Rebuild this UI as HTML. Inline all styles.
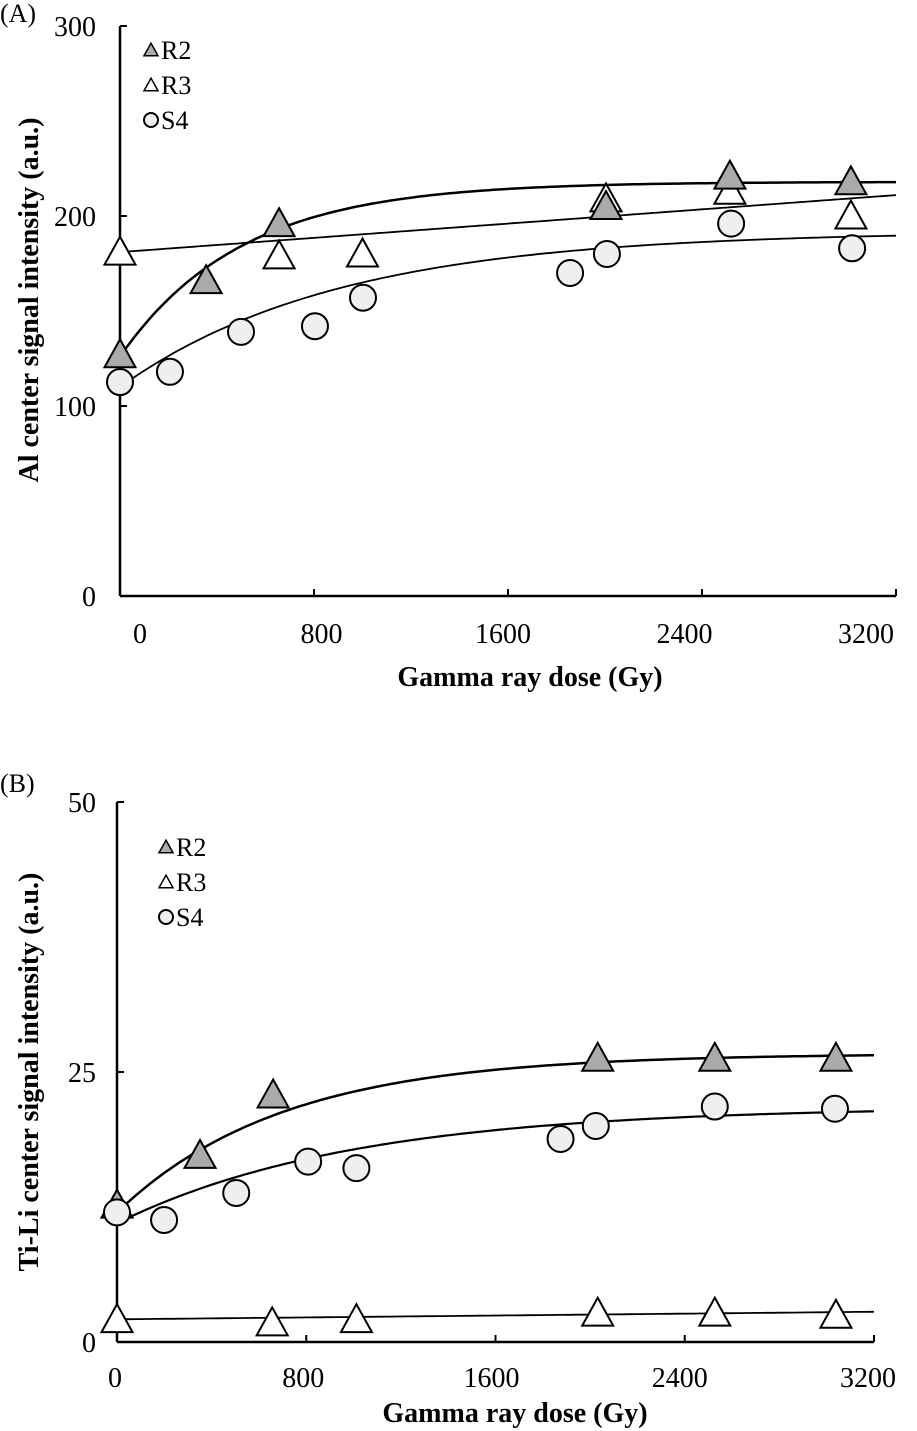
<!DOCTYPE html>
<html><head><meta charset="utf-8"><style>
html,body{margin:0;padding:0;background:#fff;}
svg{display:block;font-family:"Liberation Serif",serif;}
</style></head><body>
<svg id="chart" width="917" height="1431" viewBox="0 0 917 1431" xmlns="http://www.w3.org/2000/svg"></svg>
<script>
// Panel A data (Al center)
const doseA_R2 = [0, 355, 656, 2004, 2515, 3014];
const valA_R2 = [126, 165, 195, 204, 220, 217];
const doseA_R3 = [0, 656, 1000, 2004, 2515, 3014];
const valA_R3 = [180, 178, 179, 208, 212, 199];
const doseA_S4 = [0, 206, 499, 804, 1002, 1856, 2008, 2520, 3019];
const valA_S4 = [112.6, 118, 139, 142, 157, 170, 180, 196, 183];
const yTicksA = [0, 100, 200, 300];
// Panel B data (Ti-Li center)
const doseB_R2 = [0, 351, 660, 2032, 2527, 3039];
const valB_R2 = [12.5, 17.1, 22.7, 26.1, 26.1, 26.1];
const doseB_R3 = [0, 656, 1012, 2032, 2527, 3039];
const valB_R3 = [1.9, 1.6, 1.9, 2.5, 2.5, 2.3];
const doseB_S4 = [0, 199, 504, 808, 1012, 1875, 2024, 2527, 3035];
const valB_S4 = [12, 11.3, 13.8, 16.7, 16.1, 18.8, 20, 21.8, 21.6];
const yTicksB = [0, 25, 50];
const xTicks = [0, 800, 1600, 2400, 3200];

const NS = "http://www.w3.org/2000/svg";
const svg = document.getElementById('chart');
function el(tag, attrs, parent, text) {
  const e = document.createElementNS(NS, tag);
  for (const k in attrs) e.setAttribute(k, attrs[k]);
  if (text !== undefined) e.textContent = text;
  (parent || svg).appendChild(e);
  return e;
}
function tri(g, cx, cy, s, fill) {
  const h = s * 0.9;
  return el('polygon', {points: `${cx},${cy - h*0.62} ${cx - s/2},${cy + h*0.38} ${cx + s/2},${cy + h*0.38}`, fill: fill, stroke: '#000', 'stroke-width': 2}, g);
}
function panel(cfg) {
  const g = el('g', {});
  
  
  const X = d => cfg.x0 + (d / 3200) * (cfg.x1 - cfg.x0);
  const LX = d => cfg.lx0 + (d / 3200) * (cfg.lx1 - cfg.lx0);
  const Y = v => cfg.y0 - (v / cfg.ymax) * (cfg.y0 - cfg.y1);
  const ya = el('line', {x1: cfg.x0, y1: cfg.y1, x2: cfg.x0, y2: cfg.y0, stroke: '#000', 'stroke-width': 2.5}, g);
  
  
  const xa = el('line', {x1: cfg.x0, y1: cfg.y0, x2: cfg.x1, y2: cfg.y0, stroke: '#000', 'stroke-width': 2.5}, g);
  
  
  cfg.yTicks.forEach(t => {
    el('line', {x1: cfg.x0, y1: Y(t), x2: cfg.x0 + 7, y2: Y(t), stroke: '#000', 'stroke-width': 2}, g);
    const tl = el('text', {x: 96, y: Y(t) + 10, 'text-anchor': 'end', 'font-size': 28}, g, String(t));
    
    
  });
  xTicks.forEach(t => {
    el('line', {x1: X(t), y1: cfg.y0, x2: X(t), y2: cfg.y0 - 7, stroke: '#000', 'stroke-width': 2}, g);
    const tl = el('text', {x: LX(t), y: cfg.y0 + cfg.tly, 'text-anchor': 'middle', 'font-size': 28}, g, String(t));
    
    
  });
  const xt = el('text', {x: cfg.xtx, y: cfg.xty, 'text-anchor': 'middle', 'font-size': 28, 'font-weight': 'bold'}, g, 'Gamma ray dose (Gy)');
  
  
  const yt = el('text', {x: 0, y: 0, 'text-anchor': 'middle', 'font-size': 28, 'font-weight': 'bold', transform: `translate(${cfg.ytx},${cfg.yty}) rotate(-90)`}, g, cfg.ytitle);
  
  
  const lab = el('text', {x: 0, y: cfg.laby, 'font-size': 26}, g, cfg.label);
  
  
  cfg.fits.forEach(f => {
    let d = '';
    for (let i = 0; i <= 160; i++) {
      const dose = 3200 * i / 160;
      d += (i ? 'L' : 'M') + X(dose).toFixed(1) + ',' + Y(f.fn(dose)).toFixed(1);
    }
    const p = el('path', {d: d, fill: 'none', stroke: '#000', 'stroke-width': f.w}, g);
    
    
  });
  cfg.series.forEach(s => {
    s.x.forEach((d, i) => {
      let m;
      if (s.shape === 'circle') m = el('circle', {cx: X(d), cy: Y(s.y[i]), r: 13, fill: '#efefef', stroke: '#000', 'stroke-width': 2}, g);
      else m = tri(g, X(d), Y(s.y[i]), 31, s.fill);
      
      
    });
  });
  const lg = el('g', {}, g);
  
  
  const lx = cfg.lx, ly = cfg.ly;
  const items = [['R2', 'tri', '#aaa'], ['R3', 'tri', '#fff'], ['S4', 'circle', '#efefef']];
  items.forEach((it, i) => {
    const cy = ly + i * 35;
    if (it[1] === 'circle') el('circle', {cx: lx, cy: cy, r: 7, fill: it[2], stroke: '#000', 'stroke-width': 2}, lg);
    else { const t = tri(lg, lx, cy + 1, 14, it[2]); t.setAttribute('stroke-width', 1.5); }
    const tx = el('text', {x: lx + 10, y: cy + 9, 'font-size': 26}, lg, it[0]);
    
    
  });
}
panel({name: 'panel-a', label: '(A)', laby: 22, x0: 120, x1: 896, y0: 596, y1: 26, ymax: 300, yTicks: yTicksA,
  lx0: 140, lx1: 866, tly: 47,
  xtx: 530, xty: 686, ytx: 38, yty: 300, ytitle: 'Al center signal intensity (a.u.)', lx: 151, ly: 50,
  fits: [
    {name: 'fit-r2', w: 2.5, fn: d => 126 + 92 * (1 - Math.exp(-d / 500))},
    {name: 'fit-r3', w: 1.8, fn: d => 181 + 30 * d / 3200},
    {name: 'fit-s4', w: 1.8, fn: d => 110 + 82 * (1 - Math.exp(-d / 900))}
  ],
  series: [
    {name: 'r3', shape: 'tri', fill: '#fff', x: doseA_R3, y: valA_R3},
    {name: 'r2', shape: 'tri', fill: '#aaa', x: doseA_R2, y: valA_R2},
    {name: 's4', shape: 'circle', x: doseA_S4, y: valA_S4}
  ]});
panel({name: 'panel-b', label: '(B)', laby: 792, x0: 117, x1: 874, y0: 1342, y1: 802, ymax: 50, yTicks: yTicksB,
  lx0: 115, lx1: 868, tly: 45,
  xtx: 515, xty: 1422, ytx: 38, yty: 1072, ytitle: 'Ti-Li center signal intensity (a.u.)', lx: 166, ly: 847,
  fits: [
    {name: 'fit-r2', w: 2.5, fn: d => 12 + 14.7 * (1 - Math.exp(-d / 700))},
    {name: 'fit-r3', w: 1.8, fn: d => 2.1 + 0.7 * d / 3200},
    {name: 'fit-s4', w: 2.2, fn: d => 11 + 10.8 * (1 - Math.exp(-d / 1000))}
  ],
  series: [
    {name: 'r2', shape: 'tri', fill: '#aaa', x: doseB_R2, y: valB_R2},
    {name: 'r3', shape: 'tri', fill: '#fff', x: doseB_R3, y: valB_R3},
    {name: 's4', shape: 'circle', x: doseB_S4, y: valB_S4}
  ]});
</script>
</body></html>
